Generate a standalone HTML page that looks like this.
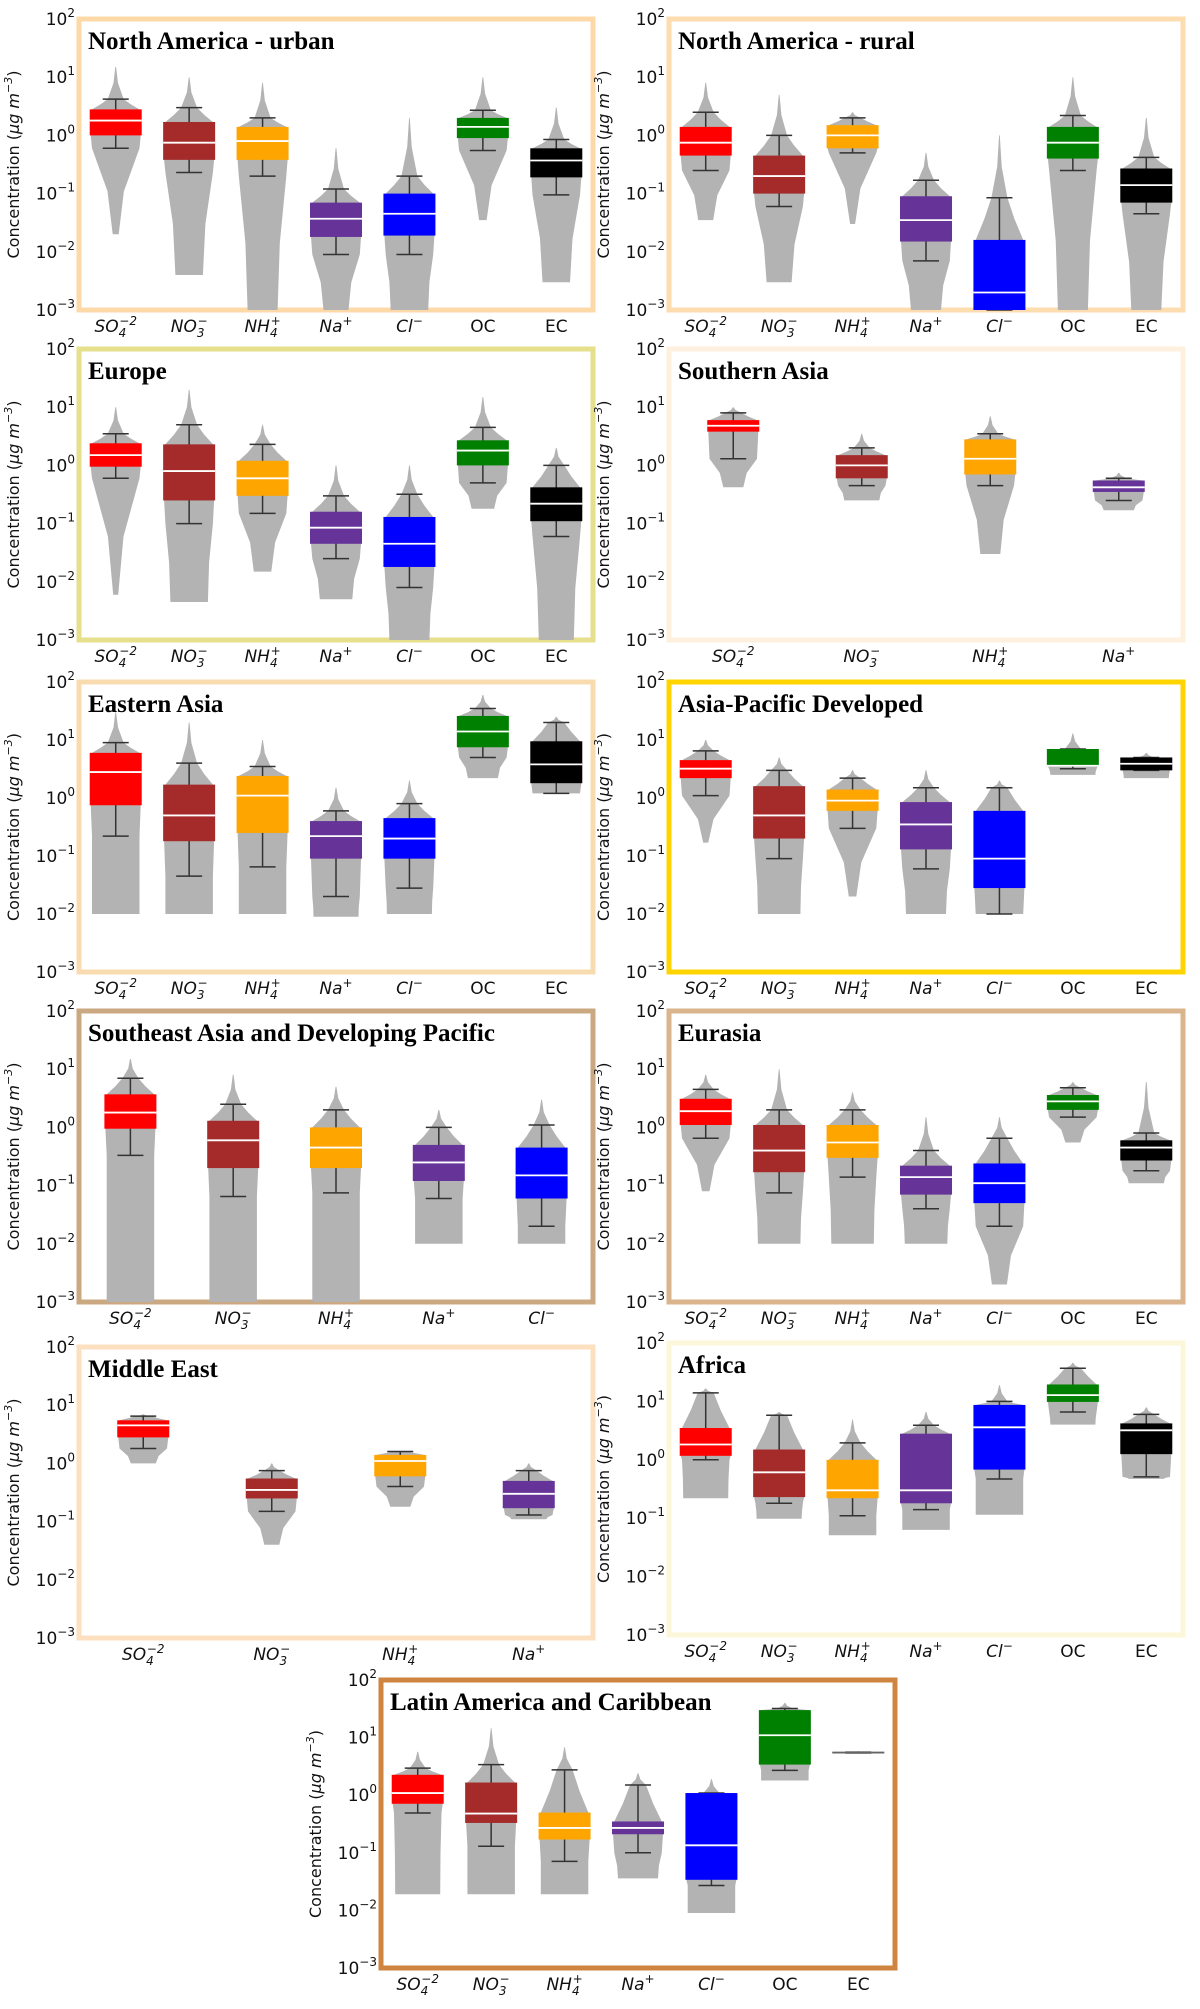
<!DOCTYPE html>
<html><head><meta charset="utf-8"><style>
body{margin:0;background:#fff;}
svg{display:block;}
</style></head><body>
<svg id="fig" width="1200" height="2009" viewBox="0 0 1200 2009" xmlns="http://www.w3.org/2000/svg"></svg>
<script>
// ---------- data ----------
const panelNames = ["North America - urban","North America - rural","Europe","Southern Asia","Eastern Asia","Asia-Pacific Developed","Southeast Asia and Developing Pacific","Eurasia","Middle East","Africa","Latin America and Caribbean"];
const panelCategories = [
 ["SO4","NO3","NH4","Na","Cl","OC","EC"],
 ["SO4","NO3","NH4","Na","Cl","OC","EC"],
 ["SO4","NO3","NH4","Na","Cl","OC","EC"],
 ["SO4","NO3","NH4","Na"],
 ["SO4","NO3","NH4","Na","Cl","OC","EC"],
 ["SO4","NO3","NH4","Na","Cl","OC","EC"],
 ["SO4","NO3","NH4","Na","Cl"],
 ["SO4","NO3","NH4","Na","Cl","OC","EC"],
 ["SO4","NO3","NH4","Na"],
 ["SO4","NO3","NH4","Na","Cl","OC","EC"],
 ["SO4","NO3","NH4","Na","Cl","OC","EC"]
];
const q1Values = [
 [1.0,0.38,0.38,0.018,0.019,0.9,0.19],
 [0.45,0.1,0.6,0.015,0.001,0.4,0.07],
 [0.95,0.25,0.3,0.045,0.018,1.0,0.11],
 [3.8,0.6,0.7,0.35],
 [0.75,0.18,0.25,0.09,0.09,7.5,1.8],
 [2.2,0.2,0.6,0.13,0.028,3.5,3.0],
 [0.95,0.2,0.2,0.12,0.06],
 [1.1,0.17,0.3,0.07,0.05,2.0,0.27],
 [2.8,0.25,0.6,0.17],
 [1.17,0.23,0.22,0.18,0.68,9.8,1.25],
 [0.71,0.33,0.17,0.21,0.034,3.4,5.4]
];
const medianValues = [
 [1.8,0.75,0.8,0.037,0.045,1.4,0.37],
 [0.75,0.2,1.0,0.035,0.002,0.75,0.14],
 [1.5,0.8,0.6,0.085,0.045,1.8,0.22],
 [4.8,1.0,1.3,0.42],
 [2.8,0.5,1.1,0.22,0.2,14,3.8],
 [3.2,0.5,0.9,0.35,0.09,3.6,3.9],
 [1.8,0.6,0.45,0.25,0.15],
 [1.9,0.4,0.55,0.14,0.11,2.8,0.45],
 [4.5,0.35,1.1,0.3],
 [1.83,0.61,0.3,0.3,3.6,12.8,3.2],
 [1.09,0.48,0.27,0.27,0.135,11,5.5]
];
const q3Values = [
 [2.8,1.7,1.4,0.07,0.1,2.0,0.6],
 [1.4,0.45,1.5,0.09,0.016,1.4,0.27],
 [2.4,2.3,1.2,0.16,0.13,2.7,0.42],
 [6.0,1.5,2.8,0.55],
 [6.0,1.7,2.4,0.4,0.45,26,9.5],
 [4.5,1.6,1.4,0.85,0.6,7.0,5.0],
 [3.7,1.3,1.0,0.5,0.45],
 [3.1,1.1,1.1,0.22,0.24,3.6,0.6],
 [5.5,0.55,1.4,0.5],
 [3.5,1.5,1.0,2.8,8.7,19.5,4.2],
 [2.26,1.66,0.5,0.35,1.09,30,5.6]
];
const whiskerLowValues = [
 [0.6,0.23,0.2,0.009,0.009,0.55,0.095],
 [0.25,0.06,0.5,0.007,0.001,0.25,0.045],
 [0.6,0.1,0.15,0.025,0.008,0.5,0.06],
 [1.3,0.45,0.45,0.25],
 [0.22,0.045,0.065,0.02,0.028,5.0,1.2],
 [1.1,0.09,0.3,0.06,0.01,3.2,3.0],
 [0.33,0.065,0.075,0.06,0.02],
 [0.65,0.075,0.14,0.04,0.02,1.5,0.18],
 [1.8,0.15,0.4,0.13],
 [1.0,0.18,0.11,0.14,0.47,6.6,0.51],
 [0.49,0.13,0.071,0.1,0.027,2.7,5.4]
];
const whiskerHighValues = [
 [4.2,3.0,2.0,0.12,0.2,2.7,0.85],
 [2.5,1.0,2.0,0.17,0.085,2.2,0.42],
 [3.5,5,2.3,0.3,0.32,4.5,1.0],
 [8,2.0,3.5,0.6],
 [9,4,3.5,0.6,0.8,35,20],
 [6.5,3.0,2.2,1.5,1.5,7.0,5.0],
 [7,2.5,2.0,1.0,1.1],
 [4.5,2.0,2.0,0.4,0.65,4.8,0.8],
 [6.5,0.75,1.6,0.75],
 [14,5.8,1.95,3.9,10,37,6],
 [2.95,3.4,2.75,1.5,1.09,32,5.6]
];
const violinMinValues = [
 [0.02,0.004,0.001,0.001,0.001,0.035,0.003],
 [0.035,0.003,0.03,0.001,0.001,0.001,0.001],
 [0.006,0.0045,0.015,0.005,0.001,0.18,0.001],
 [0.42,0.25,0.03,0.17],
 [0.01,0.01,0.01,0.009,0.01,2.2,1.2],
 [0.17,0.01,0.02,0.01,0.01,2.5,2.2],
 [0.001,0.001,0.001,0.01,0.01],
 [0.08,0.01,0.01,0.01,0.002,0.55,0.11],
 [1.0,0.04,0.18,0.11],
 [0.22,0.098,0.051,0.063,0.115,4.0,0.47],
 [0.019,0.019,0.019,0.036,0.009,1.8,5.3]
];
const violinMaxValues = [
 [15,10,8,0.6,2,10,3],
 [8,5,2.5,0.5,1.0,10,2],
 [10,20,5,1,1,15,2],
 [10,3.5,7,0.75],
 [30,20,10,1.5,2,60,25],
 [10,5,3,3,2,13,6],
 [15,8,5,2,3],
 [8,10,4,1.5,1.5,6,6],
 [7,1.0,1.6,1.0],
 [16.6,6.6,4.9,6.6,19,46,7.9],
 [5.7,14.5,6.8,2.4,1.9,40,5.8]
];
const violinBase = [
 [0.12,0.55,0.6,0.5,0.75,0.15,0.55],
 [0.3,0.5,0.1,0.6,0.95,0.6,0.6],
 [0.1,0.75,0.35,0.65,0.8,0.45,0.7],
 [0.4,0.7,0.4,0.6],
 [0.95,0.95,0.95,0.9,0.9,0.6,0.85],
 [0.1,0.85,0.15,0.8,0.85,0.9,0.9],
 [0.95,0.95,0.95,0.95,0.95],
 [0.15,0.85,0.85,0.85,0.3,0.3,0.7],
 [0.5,0.3,0.4,0.7],
 [0.9,0.9,0.95,0.95,0.95,0.9,0.7],
 [0.9,0.95,0.95,0.8,0.95,0.95,1.0]
];
const yTickExponents = [2,1,0,-1,-2,-3];

// ---------- layout ----------
const frames = [
 [79,19,593,310,"#fdd9a8"],[669,19,1183,310,"#fddcb0"],
 [79,349,593,640,"#e6df8c"],[669,349,1183,640,"#fdf0de"],
 [79,682,593,972,"#f8dcb0"],[669,682,1183,972,"#ffd400"],
 [79,1011,593,1302,"#c9a882"],[669,1011,1183,1302,"#d9b48c"],
 [79,1347,593,1638,"#fde0c0"],[669,1343,1183,1635,"#fbf7d8"],
 [381,1680,895,1968,"#cd853f"]
];
const catColor = {SO4:"#ff0000",NO3:"#a52a2a",NH4:"#ffa500",Na:"#663399",Cl:"#0000ff",OC:"#008000",EC:"#000000"};
const NS = "http://www.w3.org/2000/svg";
const svg = document.getElementById("fig");
function mk(tag, attrs, parent){
  const e = document.createElementNS(NS, tag);
  for (const k in attrs) e.setAttribute(k, attrs[k]);
  (parent||svg).appendChild(e);
  return e;
}
function catLabel(g, cat, x, y){
  const t = mk("text",{x:x,y:y,"text-anchor":"middle","font-family":"DejaVu Sans, sans-serif","font-size":"17",fill:"#111"},g);
  
  
  const parts = {
    SO4:[["SO",0,17,true],["4",5,12,true],["−2",-12,12,true,-7]],
    NO3:[["NO",0,17,true],["3",5,12,true],["−",-12,12,true,-7]],
    NH4:[["NH",0,17,true],["4",5,12,true],["+",-12,12,true,-7]],
    Na:[["Na",0,17,true],["+",-7,12,true]],
    Cl:[["Cl",0,17,true],["−",-7,12,true]],
    OC:[["OC",0,17,false]], EC:[["EC",0,17,false]]
  }[cat];
  parts.forEach(p=>{
    const s = mk("tspan",{dy:p[1],"font-size":p[2]},t);
    if (p[3]) s.setAttribute("font-style","italic");
    if (p[4]) s.setAttribute("dx",p[4]);
    s.textContent = p[0];
  });
}
frames.forEach((f,pi)=>{
  const [x0,y0,x1,y1,col] = f;
  const g = mk("g",{});
  
  
  const yScale = v => y0 + (2 - Math.log10(v)) / 5 * (y1 - y0);
  const cats = panelCategories[pi];
  const step = (x1 - x0) / cats.length;
  const fr = mk("rect",{x:x0,y:y0,width:x1-x0,height:y1-y0,fill:"#fff",stroke:col,"stroke-width":5},g);
  
  
  yTickExponents.forEach(e=>{
    const t = mk("text",{x:x0-4,y:yScale(Math.pow(10,e))+6,"text-anchor":"end","font-family":"DejaVu Sans, sans-serif","font-size":"17",fill:"#111"},g);
    
    
    const a = mk("tspan",{},t); a.textContent = "10";
    const b = mk("tspan",{dy:-8,"font-size":"12"},t); b.textContent = (e<0?"−":"")+Math.abs(e);
  });
  const yt = mk("text",{transform:`translate(${x0-60},${(y0+y1)/2}) rotate(-90)`,"text-anchor":"middle","font-family":"DejaVu Sans, sans-serif","font-size":"16",fill:"#111"},g);
  
  
  const t1 = mk("tspan",{},yt); t1.textContent = "Concentration (";
  const t2 = mk("tspan",{"font-style":"italic"},yt); t2.textContent = "μg m";
  const t3 = mk("tspan",{dy:-7,"font-size":"11","font-style":"italic"},yt); t3.textContent = "−3";
  const t4 = mk("tspan",{dy:7},yt); t4.textContent = ")";
  cats.forEach((c,ci)=>{
    const cx = x0 + step*(ci+0.5);
    const q1=q1Values[pi][ci], md=medianValues[pi][ci], q3=q3Values[pi][ci];
    const wl=whiskerLowValues[pi][ci], wh=whiskerHighValues[pi][ci];
    const vmn=violinMinValues[pi][ci], vmx=violinMaxValues[pi][ci], bw=violinBase[pi][ci];
    const HW = 25;
    const top = Math.max(wh,q3);
    let pts = [[vmx,0.015],[Math.sqrt(top*vmx),0.09],[top,0.32],[Math.sqrt(top*q3),0.6],[q3,0.95],[q1,1.0],[Math.max(wl,vmn),0.95],[Math.sqrt(Math.max(wl,vmn)*vmn),bw+0.25*(0.95-bw)],[vmn,bw]];
    pts = pts.filter(p=>p[0]<=vmx && p[0]>=vmn).sort((a,b)=>b[0]-a[0]);
    const right = pts.map(p=>`${(cx+p[1]*HW).toFixed(1)},${yScale(p[0]).toFixed(1)}`);
    const left = pts.slice().reverse().map(p=>`${(cx-p[1]*HW).toFixed(1)},${yScale(p[0]).toFixed(1)}`);
    const v = mk("polygon",{points:right.concat(left).join(" "),fill:"#b3b3b3"},g);
    
    
    const w = mk("path",{d:`M${cx},${yScale(wl)}V${yScale(wh)}M${cx-13},${yScale(wl)}h26M${cx-13},${yScale(wh)}h26`,stroke:"#333","stroke-width":1.5,fill:"none"},g);
    
    
    const noBox = (pi===10 && c==="EC");
    const bx = mk("rect",{x:cx-26,y:yScale(q3),width:52,height:Math.max(1,yScale(q1)-yScale(q3)),fill:noBox?"#999":catColor[c]},g);
    
    
    const m = mk("line",{x1:cx-26,x2:cx+26,y1:yScale(md),y2:yScale(md),stroke:noBox?"#666":"#fff","stroke-width":1.8},g);
    
    
    catLabel(g,c,cx,y1+22);
  });
  const tt = mk("text",{x:x0+9,y:y0+30,"font-family":"Liberation Serif, serif","font-weight":"bold","font-size":"25",fill:"#000"},g);
  
  
  tt.textContent = panelNames[pi];
});
</script>
</body></html>
